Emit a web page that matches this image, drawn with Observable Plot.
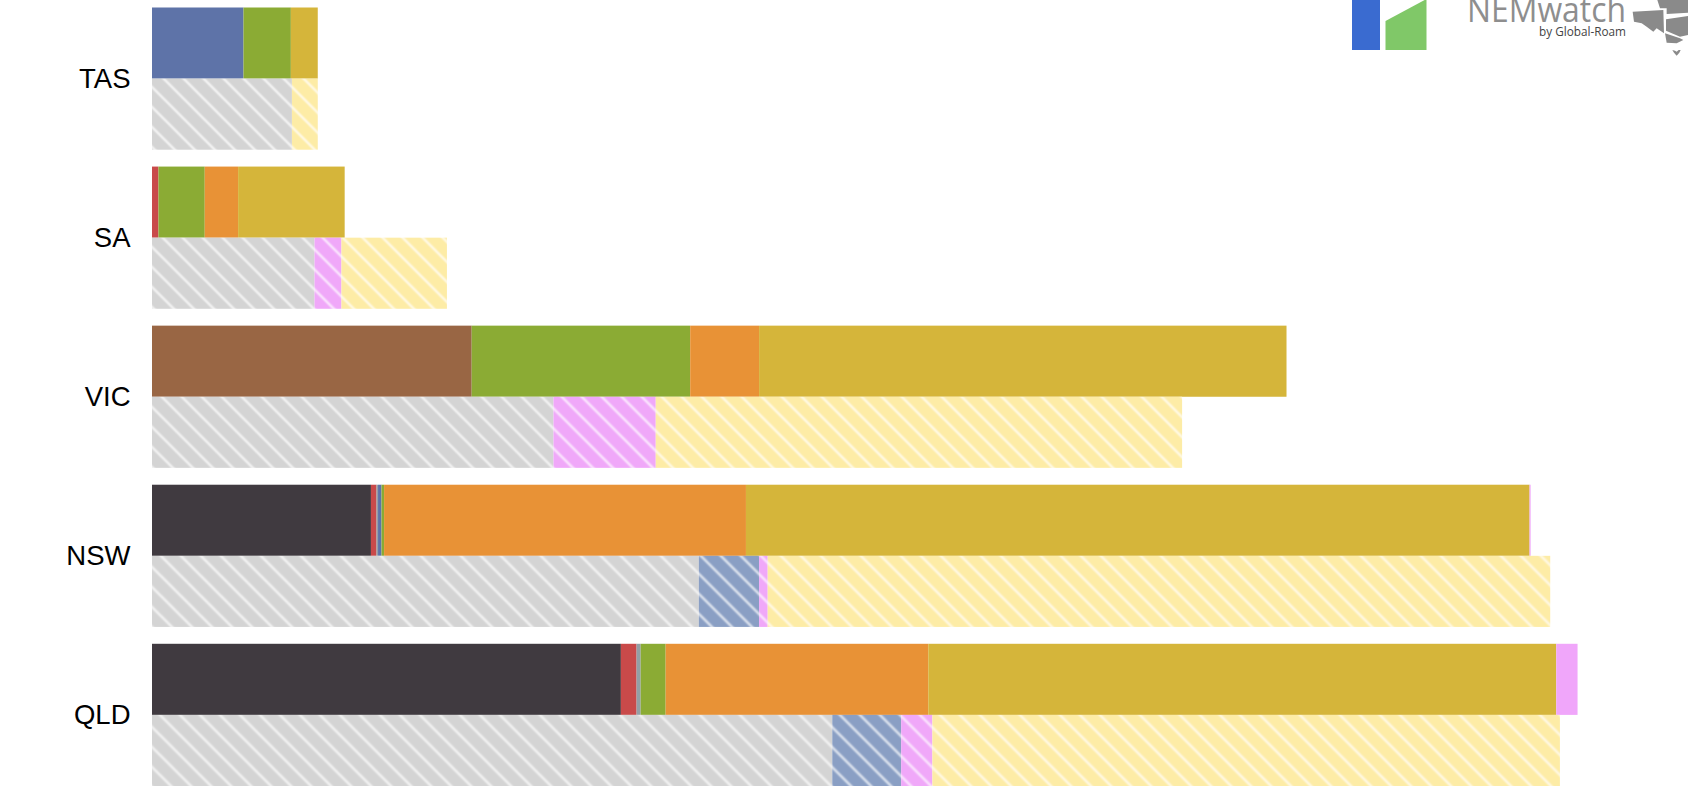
<!DOCTYPE html>
<html>
<head>
<meta charset="utf-8">
<script src="https://cdn.jsdelivr.net/npm/d3@7"></script>
<script src="https://cdn.jsdelivr.net/npm/@observablehq/plot@0.6"></script>
<style>
html,body{margin:0;padding:0;background:#fff;overflow:hidden}
#wrap{position:relative;width:1688px;height:792px}
#wrap svg{display:block}
#logo{position:absolute;left:0;top:0;pointer-events:none}
</style>
</head>
<body>
<div id="wrap"></div>
<script>
const states = ["TAS", "SA", "VIC", "NSW", "QLD"];

// Upper bar of each state (MW)
const supplyFuels = ["Black coal", "Brown coal", "Gas", "Liquid", "Hydro", "Wind", "Utility solar", "Rooftop solar", "Battery"];
const supplyColors = ["#403a40", "#996644", "#c94a4a", "#939fa6", "#5e73a8", "#8bab34", "#e89236", "#d5b53a", "#f0a6fa"];
const supplyTAS = [0, 0, 0, 0, 425, 220, 0, 125, 0];
const supplySA = [0, 0, 30, 0, 0, 215, 155, 495, 0];
const supplyVIC = [0, 1485, 0, 0, 0, 1015, 320, 2450, 0];
const supplyNSW = [1017, 0, 26, 7, 16, 12, 1681, 3640, 5];
const supplyQLD = [2178, 0, 73, 19, 0, 116, 1220, 2917, 99];

// Lower, hatched bar of each state
const flexCategories = ["Other", "Hydro potential", "Storage potential", "Solar potential"];
const flexFills = ["url(#hatch-grey)", "url(#hatch-blue)", "url(#hatch-pink)", "url(#hatch-yellow)"];
const flexTAS = [650, 0, 0, 120];
const flexSA = [755, 0, 125, 490];
const flexVIC = [1865, 0, 475, 2445];
const flexNSW = [2540, 280, 40, 3635];
const flexQLD = [3160, 320, 145, 2915];

const rows = [];
const supplyByState = [supplyTAS, supplySA, supplyVIC, supplyNSW, supplyQLD];
const flexByState = [flexTAS, flexSA, flexVIC, flexNSW, flexQLD];
states.forEach((state, i) => {
  supplyFuels.forEach((cat, j) => {
    if (supplyByState[i][j] > 0) rows.push({state, row: "supply", cat, value: supplyByState[i][j]});
  });
  flexCategories.forEach((cat, j) => {
    if (flexByState[i][j] > 0) rows.push({state, row: "flex", cat, value: flexByState[i][j]});
  });
});

const chart = Plot.plot({
  width: 1688,
  height: 792,
  marginLeft: 152,
  marginRight: 0,
  marginTop: 7.5,
  marginBottom: 6,
  style: {background: "transparent", fontFamily: "'Liberation Sans', Arial, sans-serif"},
  x: {domain: [0, 7135], axis: null},
  y: {domain: ["supply", "flex"], padding: 0, axis: null, round: false},
  fy: {domain: states, paddingInner: 0.106, paddingOuter: 0, align: 0.5, round: false, axis: null, label: null},
  color: {
    domain: [...supplyFuels, ...flexCategories],
    range: [...supplyColors, ...flexFills]
  },
  marks: [
    Plot.barX(rows, Plot.stackX({order: null}, {
      x: "value", y: "row", fy: "state", fill: "cat"
    })),
    Plot.axisFy({anchor: "left", tickSize: 0, tickPadding: 22, fontSize: 27.5, label: null, color: "#000"})
  ]
});
document.getElementById("wrap").appendChild(chart);

// hatch patterns referenced by the colour scale; one copy per facet offset so
// that the stripes stay in phase across the whole picture
const hatchBases = {"hatch-grey": "#d4d4d4", "hatch-blue": "#8a9fc4", "hatch-pink": "#f0a8f9", "hatch-yellow": "#fdeca6"};
const defs = d3.select(chart).insert("defs", ":first-child");
const made = new Set();
const stripes = "M-5,-5L25,25M-5,15L5,25M15,-5L25,5";
chart.querySelectorAll('rect[fill^="url(#hatch"]').forEach(el => {
  const id = el.getAttribute("fill").slice(5, -1);
  const f = el.getCTM().f;
  const key = `${id}-${Math.round(f * 10)}`;
  if (!made.has(key)) {
    made.add(key);
    const p = defs.append("pattern").attr("id", key).attr("patternUnits", "userSpaceOnUse")
      .attr("width", 20).attr("height", 20)
      .attr("patternTransform", `translate(${(5 + f) % 20},0)`);
    p.append("rect").attr("width", 20).attr("height", 20).attr("fill", hatchBases[id]);
    p.append("path").attr("d", stripes)
      .attr("stroke", "#fff").attr("stroke-width", 4).attr("stroke-opacity", 0.28).attr("fill", "none");
    p.append("path").attr("d", stripes)
      .attr("stroke", "#fff").attr("stroke-width", 1.8).attr("stroke-opacity", 0.5).attr("fill", "none");
  }
  el.setAttribute("fill", `url(#${key})`);
});

// NEMwatch logo, top right
const logo = d3.select("#wrap").append("svg").attr("id", "logo").attr("width", 1688).attr("height", 60);
logo.append("rect").attr("x", 1352).attr("y", 0).attr("width", 28).attr("height", 50).attr("fill", "#3a6bd0");
logo.append("path").attr("d", "M1385.5,21L1426.5,-1V50H1385.5Z").attr("fill", "#80c868");
logo.append("text").attr("x", 1467).attr("y", 22).attr("textLength", 159).attr("lengthAdjust", "spacingAndGlyphs")
  .attr("font-family", "'Open Sans'").attr("font-size", 34).attr("fill", "#8e8e8e").text("NEMwatch");
logo.append("text").attr("x", 1539).attr("y", 36).attr("textLength", 87).attr("lengthAdjust", "spacingAndGlyphs")
  .attr("font-family", "'Open Sans'").attr("font-size", 12.5).attr("fill", "#444").text("by Global-Roam");
const mapShapes = [
  [[548,35],[640,30],[642,100],[620,85],[610,95],[590,80],[575,70],[552,65]],
  [[622,0],[714,0],[714,38],[650,42],[650,25],[630,25]],
  [[648,58],[714,48],[714,105],[690,110],[648,92]],
  [[645,100],[690,115],[700,120],[680,130],[650,128]],
  [[667,150],[675,152],[680,155],[686,150],[692,150],[688,158],[680,167],[672,158]]
];
mapShapes.forEach(s => logo.append("polygon")
  .attr("points", s.map(([x, y]) => `${1450 + x / 3},${y / 3}`).join(" "))
  .attr("fill", "#8a8a8a"));
</script>
</body>
</html>
